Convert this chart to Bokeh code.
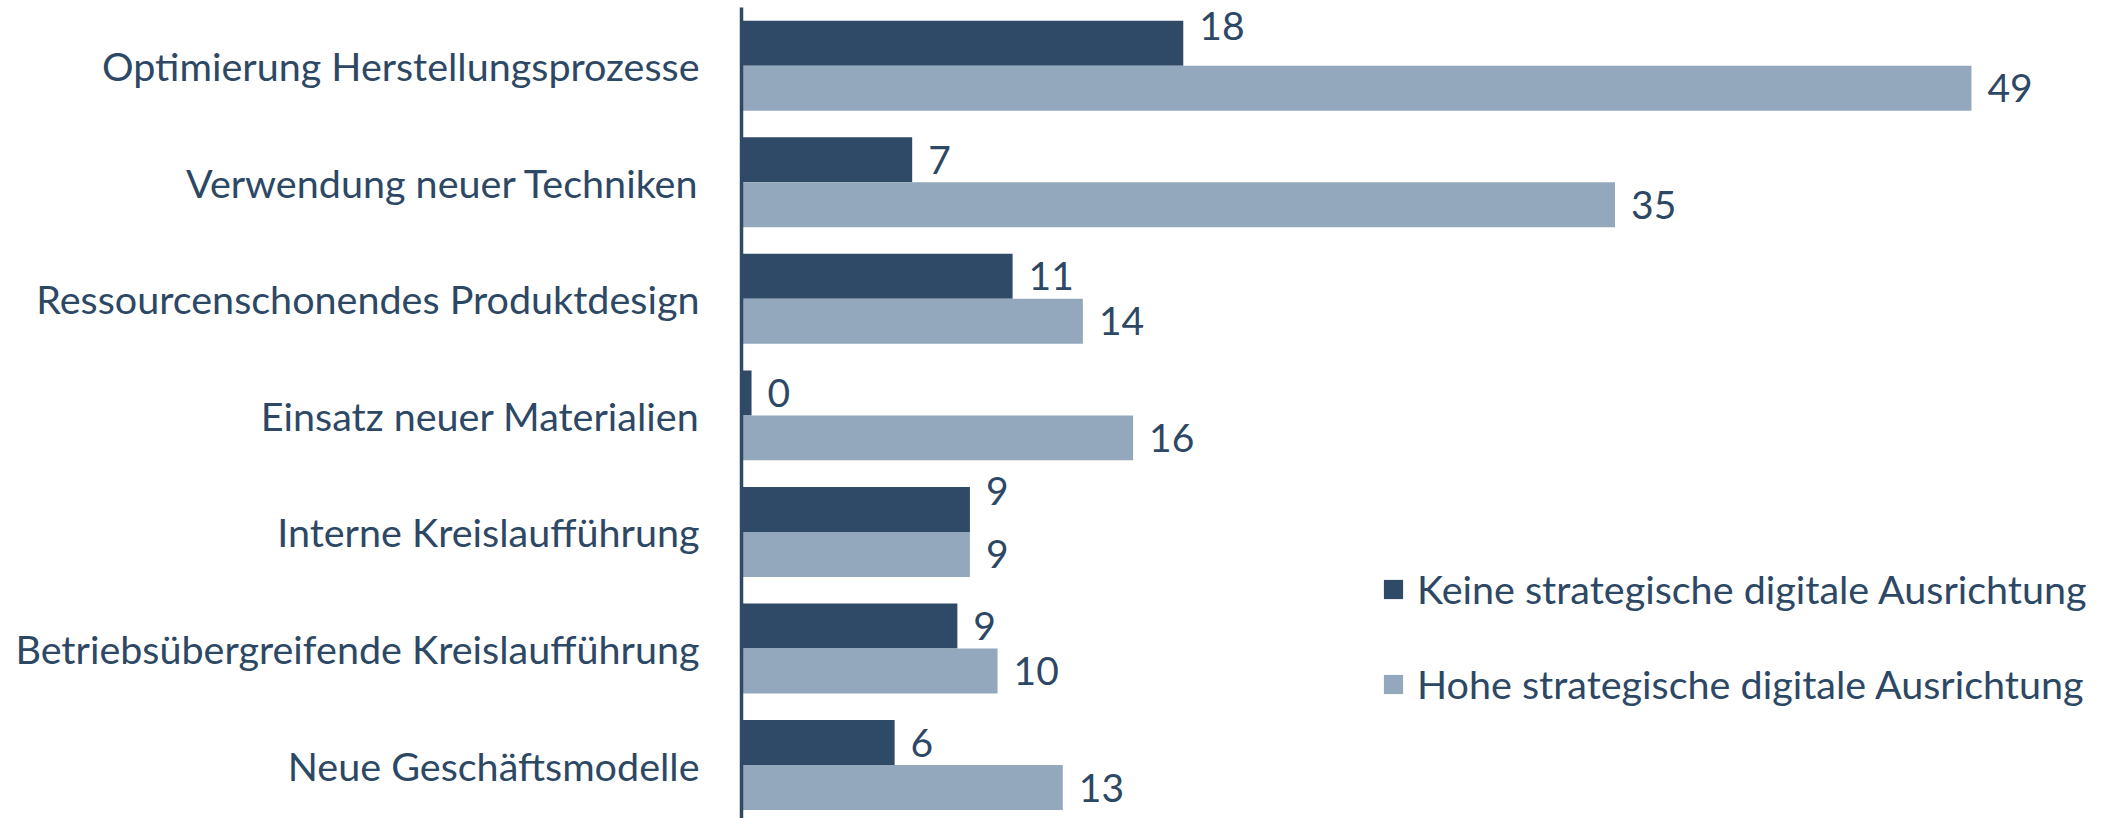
from bokeh.plotting import figure
from bokeh.models import Range1d, FixedTicker, Legend, LegendItem, ColumnDataSource
from bokeh.embed import file_html
from bokeh.resources import INLINE
from bokeh.core.properties import value
import numpy as np

categories = [
    "Optimierung Herstellungsprozesse",
    "Verwendung neuer Techniken",
    "Ressourcenschonendes Produktdesign",
    "Einsatz neuer Materialien",
    "Interne Kreislaufführung",
    "Betriebsübergreifende Kreislaufführung",
    "Neue Geschäftsmodelle",
]
series_names = [
    "Keine strategische digitale Ausrichtung",
    "Hohe strategische digitale Ausrichtung",
]
keine = [17.6, 6.8, 10.8, 0.4, 9.1, 8.6, 6.1]
hohe = [49.0, 34.8, 13.6, 15.6, 9.1, 10.2, 12.8]

# style
DARK = "#2e4a66"
LIGHT = "#93a8bc"
TEXT = "#2d4864"
FONT = "Lato"
BAR_H = 0.386
keine_label_shift = [-17, 0, 0, 0, -18, 0, 0]
hohe_label_shift = [0, 0, 0, 0, 0, 0, 0]

idx = np.arange(len(categories))

p = figure(width=2103, height=818, output_backend="svg", toolbar_location=None,
           x_range=Range1d(0, 54.26), y_range=Range1d(6.459, -0.5),
           min_border_left=741, min_border_right=0, min_border_top=7, min_border_bottom=0)
p.outline_line_color = None
p.grid.visible = False
p.xaxis.visible = False
p.background_fill_color = "white"

src_k = ColumnDataSource(dict(y=idx - BAR_H / 2, v=keine,
                              lab=[str(int(round(v))) for v in keine],
                              dy=keine_label_shift))
src_h = ColumnDataSource(dict(y=idx + BAR_H / 2, v=hohe,
                              lab=[str(int(round(v))) for v in hohe],
                              dy=hohe_label_shift))

r_k = p.hbar(y="y", right="v", left=0, height=BAR_H, source=src_k,
             fill_color=DARK, line_color=None)
r_h = p.hbar(y="y", right="v", left=0, height=BAR_H, source=src_h,
             fill_color=LIGHT, line_color=None)

for src in (src_k, src_h):
    p.text(x="v", y="y", text="lab", source=src, x_offset=16, y_offset="dy",
           text_align="left", text_baseline="middle", text_color=TEXT,
           text_font=value(FONT), text_font_size="39px")

ax = p.yaxis[0]
ax.ticker = FixedTicker(ticks=list(idx))
ax.major_label_overrides = {int(i): c for i, c in zip(idx, categories)}
ax.major_label_text_font = FONT
ax.major_label_text_font_size = "39.5px"
ax.major_label_text_color = TEXT
ax.major_tick_line_color = None
ax.minor_tick_line_color = None
ax.major_label_standoff = 36
ax.axis_line_color = DARK
ax.axis_line_width = 3.5

legend = Legend(items=[LegendItem(label=series_names[0], renderers=[r_k]),
                       LegendItem(label=series_names[1], renderers=[r_h])],
                location=(640, 111), orientation="vertical",
                glyph_width=24, glyph_height=24, label_standoff=12,
                spacing=48, padding=0, margin=0,
                border_line_color=None, background_fill_alpha=0,
                label_text_font=FONT, label_text_font_size="39.5px",
                label_text_color=TEXT)
p.add_layout(legend)

open("out.html", "w").write(file_html(p, INLINE))
